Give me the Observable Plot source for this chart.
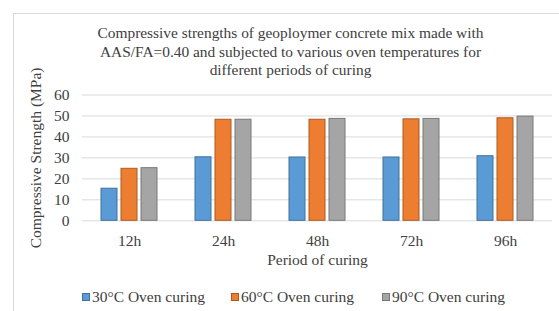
<!DOCTYPE html>
<html>
<head>
<meta charset="utf-8">
<script src="https://cdn.jsdelivr.net/npm/d3@7"></script>
<script src="https://cdn.jsdelivr.net/npm/@observablehq/plot@0.6"></script>
<style>
  html, body { margin: 0; padding: 0; background: #fff; overflow: hidden; }
  body { width: 559px; height: 311px; position: relative; font-family: "Liberation Serif", "Times New Roman", serif; color: #404040; }
  #frame { position: absolute; left: 13px; top: 13px; width: 560px; height: 320px; border-top: 1px solid #d9d9d9; border-left: 1px solid #d9d9d9; box-sizing: border-box; }
  #title { position: absolute; left: 13px; width: 555px; top: 24px; text-align: center; font-size: 15.4px; line-height: 18.5px; color: #404040; }
  #chart { position: absolute; left: 0; top: 0; }
  #legend { position: absolute; top: 288px; left: 0; width: 559px; height: 18px; font-size: 15.5px; color: #404040; }
  .item { position: absolute; top: 0; display: flex; align-items: center; white-space: nowrap; }
  .sw { width: 8px; height: 8px; margin-right: 2px; box-sizing: border-box; }
</style>
</head>
<body>
<div id="frame"></div>
<div id="title">Compressive strengths of geoploymer concrete mix made with<br>AAS/FA=0.40 and subjected to various oven temperatures for<br>different periods of curing</div>
<div id="chart"></div>
<div id="legend"></div>
<script>
const periods = ["12h", "24h", "48h", "72h", "96h"];
const seriesNames = ["30°C Oven curing", "60°C Oven curing", "90°C Oven curing"];
const values30 = [15.3, 30.3, 30.2, 30.2, 30.8];
const values60 = [24.8, 48.2, 48.2, 48.4, 48.9];
const values90 = [25.1, 48.2, 48.6, 48.6, 49.7];
const colors = ["#5b9bd5", "#ed7d31", "#a5a5a5"];
const strokes = ["#41719c", "#ae5a21", "#787878"];
const yTicks = [0, 10, 20, 30, 40, 50, 60];

const seriesValues = [values30, values60, values90];
const data = [];
periods.forEach((p, i) => {
  seriesNames.forEach((s, j) => {
    data.push({period: p, series: s, value: seriesValues[j][i]});
  });
});

const strokeScale = d3.scaleOrdinal(seriesNames, strokes);

const chart = Plot.plot({
  width: 559,
  height: 311,
  marginLeft: 80,
  marginRight: 6,
  marginTop: 94.5,
  marginBottom: 90.7,
  style: {fontFamily: "'Liberation Serif', 'Times New Roman', serif", fontSize: "15.5px", color: "#404040", background: "transparent"},
  fx: {domain: periods, padding: 0, label: "Period of curing", labelAnchor: "center", labelArrow: "none", tickSize: 0, tickPadding: 14, labelOffset: 44},
  x: {domain: seriesNames, paddingInner: 0.195, paddingOuter: 0.9, axis: null},
  y: {domain: [0, 60], ticks: yTicks, tickSize: 0, tickPadding: 13, label: "Compressive Strength (MPa)", labelAnchor: "center", labelArrow: "none", labelOffset: 53},
  color: {domain: seriesNames, range: colors},
  marks: [
    Plot.ruleY(yTicks, {stroke: "#d9d9d9", strokeWidth: 1}),
    Plot.barY(data, {fx: "period", x: "series", y: "value", fill: "series", stroke: d => strokeScale(d.series), strokeWidth: 1})
  ]
});
document.getElementById("chart").appendChild(chart);

const legend = document.getElementById("legend");
const legendX = [82, 231, 382];
seriesNames.forEach((s, j) => {
  const item = document.createElement("div");
  item.className = "item";
  item.style.left = legendX[j] + "px";
  const sw = document.createElement("span");
  sw.className = "sw";
  sw.style.background = colors[j];
  sw.style.border = "1px solid " + strokes[j];
  const t = document.createElement("span");
  t.textContent = s;
  item.appendChild(sw);
  item.appendChild(t);
  legend.appendChild(item);
});
</script>
</body>
</html>
